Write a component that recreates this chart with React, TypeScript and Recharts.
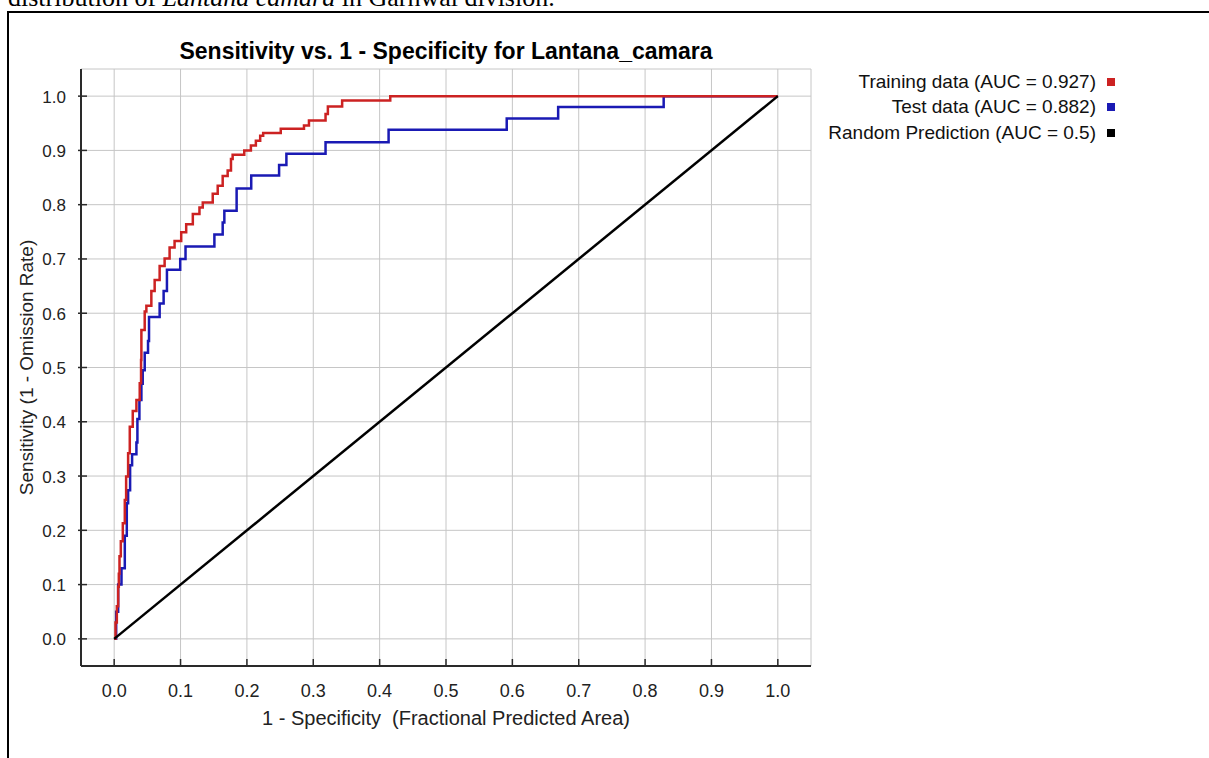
import { LineChart, Line, XAxis, YAxis, CartesianGrid, Legend, Label } from 'recharts';

// ROC points: x = 1 - specificity, y = sensitivity
const trainingFpr = [0, 0.002, 0.004, 0.006, 0.007, 0.008, 0.01, 0.013, 0.016, 0.018, 0.021, 0.0235, 0.028, 0.0335, 0.0385, 0.0405, 0.041, 0.046, 0.0485, 0.056, 0.061, 0.0685, 0.076, 0.0835, 0.091, 0.101, 0.1085, 0.1185, 0.1285, 0.1335, 0.1485, 0.156, 0.1635, 0.171, 0.176, 0.1785, 0.196, 0.206, 0.2135, 0.22, 0.2245, 0.251, 0.286, 0.2935, 0.3185, 0.322, 0.3435, 0.416, 1.0];
const trainingTpr = [0, 0.03, 0.06, 0.096, 0.12, 0.152, 0.18, 0.213, 0.256, 0.299, 0.342, 0.391, 0.42, 0.44, 0.471, 0.514, 0.569, 0.603, 0.614, 0.641, 0.661, 0.687, 0.701, 0.721, 0.733, 0.749, 0.764, 0.783, 0.795, 0.804, 0.82, 0.835, 0.853, 0.863, 0.884, 0.892, 0.9, 0.909, 0.918, 0.927, 0.932, 0.94, 0.946, 0.955, 0.967, 0.981, 0.992, 1.0, 1.0];

const testFpr = [0, 0.003, 0.006, 0.011, 0.016, 0.019, 0.021, 0.024, 0.027, 0.0335, 0.035, 0.038, 0.041, 0.043, 0.046, 0.051, 0.0525, 0.0685, 0.0745, 0.0795, 0.0995, 0.1075, 0.151, 0.1635, 0.166, 0.1845, 0.2065, 0.2485, 0.2595, 0.3185, 0.4135, 0.5915, 0.669, 0.828, 1.0];
const testTpr = [0, 0.05, 0.1, 0.13, 0.19, 0.25, 0.274, 0.32, 0.34, 0.362, 0.405, 0.44, 0.47, 0.495, 0.527, 0.549, 0.593, 0.618, 0.641, 0.68, 0.7, 0.723, 0.745, 0.767, 0.789, 0.83, 0.854, 0.873, 0.894, 0.915, 0.938, 0.959, 0.98, 1.0, 1.0];

const randomFpr = [0, 1];
const randomTpr = [0, 1];

const tickValues = [0, 0.1, 0.2, 0.3, 0.4, 0.5, 0.6, 0.7, 0.8, 0.9, 1.0];
const tickLabels = ['0.0', '0.1', '0.2', '0.3', '0.4', '0.5', '0.6', '0.7', '0.8', '0.9', '1.0'];

const seriesNames = ['Training data (AUC = 0.927)', 'Test data (AUC = 0.882)', 'Random Prediction (AUC = 0.5)'];
const seriesColors = ['#cc2222', '#1a1ab4', '#000000'];

const chartTitle = 'Sensitivity vs. 1 - Specificity for Lantana_camara';
const xTitle = '1 - Specificity \u00a0(Fractional Predicted Area)';
const yTitle = 'Sensitivity  (1 - Omission Rate)';

const toPoints = (xs: number[], ys: number[]) => xs.map((x, i) => ({ x, y: ys[i] }));

const trainingData = toPoints(trainingFpr, trainingTpr);
const testData = toPoints(testFpr, testTpr);
const randomData = toPoints(randomFpr, randomTpr);

const sans = '"Liberation Sans", Arial, Helvetica, sans-serif';
const frameColor = '#2a2a2a';

function BottomTick(props: any) {
  const { x, y, index } = props;
  return (
    <g>
      <line x1={x} y1={y} x2={x} y2={y - 7} stroke={frameColor} strokeWidth={1.5} />
      <text x={x} y={y + 31} textAnchor="middle" fontSize={18} fill="#222" fontFamily={sans}>
        {tickLabels[index]}
      </text>
    </g>
  );
}

function TopTick(props: any) {
  const { x, y } = props;
  return <line x1={x} y1={y} x2={x} y2={y + 7} stroke={frameColor} strokeWidth={1.5} />;
}

function LeftTick(props: any) {
  const { x, y, index } = props;
  return (
    <g>
      <line x1={x - 3} y1={y} x2={x + 6} y2={y} stroke={frameColor} strokeWidth={1.5} />
      <text x={x - 15} y={y + 6.5} textAnchor="end" fontSize={17} fill="#222" fontFamily={sans}>
        {tickLabels[index]}
      </text>
    </g>
  );
}

function RightTick(props: any) {
  const { x, y } = props;
  return <line x1={x - 6} y1={y} x2={x + 3} y2={y} stroke={frameColor} strokeWidth={1.5} />;
}

function RocLegend() {
  return (
    <div style={{ fontFamily: sans, fontSize: 19, color: '#111' }}>
      {seriesNames.map((name, i) => (
        <div
          key={name}
          style={{
            display: 'flex',
            justifyContent: 'flex-end',
            alignItems: 'center',
            height: 25.5,
            whiteSpace: 'nowrap',
          }}
        >
          <span>{name}</span>
          <span
            style={{
              display: 'inline-block',
              width: 8,
              height: 8,
              marginLeft: 11,
              backgroundColor: seriesColors[i],
            }}
          />
        </div>
      ))}
    </div>
  );
}

export default function App() {
  return (
    <div
      style={{
        position: 'absolute',
        left: 0,
        top: 0,
        width: 1209,
        height: 758,
        overflow: 'hidden',
        background: '#fff',
      }}
    >
      <div
        style={{
          position: 'absolute',
          left: 8,
          top: -15,
          fontFamily: '"Liberation Serif", "Times New Roman", serif',
          fontSize: 26,
          lineHeight: '26px',
          whiteSpace: 'nowrap',
          color: '#000',
        }}
      >
        distribution of <i>Lantana camara</i> in Garhwal division.
      </div>
      <div
        style={{
          position: 'absolute',
          left: 7,
          top: 11,
          width: 1400,
          height: 1000,
          borderTop: '2px solid #000',
          borderLeft: '2px solid #000',
        }}
      />
      <div
        style={{
          position: 'absolute',
          left: 81,
          top: 40,
          width: 730,
          textAlign: 'center',
          fontFamily: sans,
          fontSize: 23,
          fontWeight: 'bold',
          lineHeight: '23px',
          whiteSpace: 'nowrap',
          color: '#000',
        }}
      >
        {chartTitle}
      </div>
      <div style={{ position: 'absolute', left: 0, top: 0 }}>
        <LineChart
          width={1209}
          height={758}
          margin={{ top: 69, right: 398, bottom: 52, left: 0 }}
        >
          <CartesianGrid xAxisId="bottom" yAxisId="left" stroke="#c6c6c6" strokeWidth={1} />
          <XAxis
            xAxisId="bottom"
            dataKey="x"
            type="number"
            domain={[-0.05, 1.05]}
            allowDataOverflow
            ticks={tickValues}
            interval={0}
            height={40}
            tickSize={0}
            tickMargin={0}
            tickLine={false}
            axisLine={{ stroke: frameColor, strokeWidth: 2 }}
            tick={<BottomTick />}
          >
            <Label
              value={xTitle}
              position="bottom"
              offset={5}
              style={{ fontFamily: sans, fontSize: 20, fill: '#222' }}
            />
          </XAxis>
          <XAxis
            xAxisId="top"
            orientation="top"
            dataKey="x"
            type="number"
            domain={[-0.05, 1.05]}
            allowDataOverflow
            ticks={tickValues}
            interval={0}
            height={0}
            tickSize={0}
            tickMargin={0}
            tickLine={false}
            axisLine={{ stroke: frameColor, strokeWidth: 2 }}
            tick={<TopTick />}
          />
          <YAxis
            yAxisId="left"
            type="number"
            domain={[-0.05, 1.05]}
            allowDataOverflow
            ticks={tickValues}
            interval={0}
            width={81}
            tickSize={0}
            tickMargin={0}
            tickLine={false}
            axisLine={{ stroke: frameColor, strokeWidth: 2 }}
            tick={<LeftTick />}
          >
            <Label
              value={yTitle}
              angle={-90}
              position="insideLeft"
              offset={26}
              style={{ fontFamily: sans, fontSize: 19, fill: '#222', textAnchor: 'middle' }}
            />
          </YAxis>
          <YAxis
            yAxisId="right"
            orientation="right"
            type="number"
            domain={[-0.05, 1.05]}
            allowDataOverflow
            ticks={tickValues}
            interval={0}
            width={0}
            tickSize={0}
            tickMargin={0}
            tickLine={false}
            axisLine={{ stroke: frameColor, strokeWidth: 2 }}
            tick={<RightTick />}
          />
          <Legend
            layout="vertical"
            align="center"
            verticalAlign="middle"
            content={<RocLegend />}
            wrapperStyle={{ left: 795, top: 69, width: 320 }}
          />
          <Line
            xAxisId="bottom"
            yAxisId="left"
            data={testData}
            dataKey="y"
            name={seriesNames[1]}
            type="stepAfter"
            stroke={seriesColors[1]}
            strokeWidth={2.5}
            dot={false}
            activeDot={false}
            isAnimationActive={false}
          />
          <Line
            xAxisId="bottom"
            yAxisId="left"
            data={trainingData}
            dataKey="y"
            name={seriesNames[0]}
            type="stepAfter"
            stroke={seriesColors[0]}
            strokeWidth={2.5}
            dot={false}
            activeDot={false}
            isAnimationActive={false}
          />
          <Line
            xAxisId="bottom"
            yAxisId="left"
            data={randomData}
            dataKey="y"
            name={seriesNames[2]}
            type="linear"
            stroke={seriesColors[2]}
            strokeWidth={2.5}
            dot={false}
            activeDot={false}
            isAnimationActive={false}
          />
        </LineChart>
      </div>
    </div>
  );
}
